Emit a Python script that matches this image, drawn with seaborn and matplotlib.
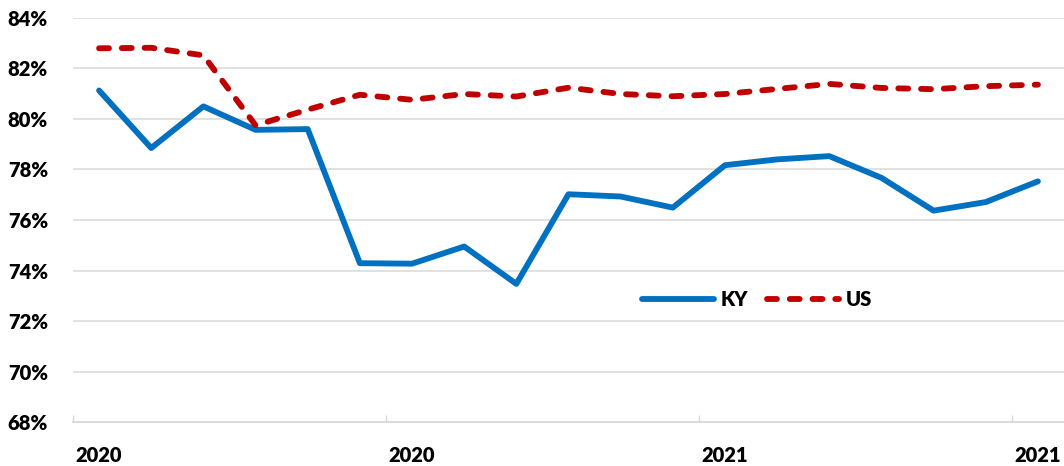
import pandas as pd
import matplotlib
matplotlib.use("Agg")
import matplotlib.pyplot as plt
import seaborn as sns

# monthly data, Jan 2020 - Jul 2021
months = ["2020-01", "2020-02", "2020-03", "2020-04", "2020-05", "2020-06",
          "2020-07", "2020-08", "2020-09", "2020-10", "2020-11", "2020-12",
          "2021-01", "2021-02", "2021-03", "2021-04", "2021-05", "2021-06",
          "2021-07"]
ky = [81.13, 78.85, 80.50, 79.57, 79.60, 74.29, 74.27, 74.95, 73.47, 77.02,
      76.93, 76.49, 78.17, 78.40, 78.53, 77.67, 76.37, 76.71, 77.53]
us = [82.80, 82.82, 82.52, 79.75, 80.37, 80.96, 80.76, 80.99, 80.89, 81.24,
      80.99, 80.90, 80.99, 81.19, 81.39, 81.23, 81.18, 81.30, 81.36]
x_label_every = 6
y_ticks = [68, 70, 72, 74, 76, 78, 80, 82, 84]

# -----------------------------
# build frame
# -----------------------------
df = pd.DataFrame({"month": months, "KY": ky, "US": us})
df["pos"] = range(len(df))
label_pos = list(range(0, len(df), x_label_every))
x_labels = [df["month"][i][:4] for i in label_pos]

sns.set_theme(style="white")
plt.rcParams["font.family"] = ["Lato", "DejaVu Sans"]
plt.rcParams["font.weight"] = "bold"

fig = plt.figure(figsize=(10.64, 4.66), dpi=100)
ax = fig.add_axes([0.0686, 0.0944, 0.9314, 0.867])

grid_col = "#D9D9D9"
for v in y_ticks[1:]:
    ax.axhline(v, color=grid_col, lw=1.1, zorder=0)

sns.lineplot(data=df, x="pos", y="KY", ax=ax, color="#0070C0", lw=4.2,
             label="KY", solid_capstyle="round", solid_joinstyle="round")
sns.lineplot(data=df, x="pos", y="US", ax=ax, color="#C00000", lw=4.2,
             label="US", linestyle=(0, (1.7, 2.2)),
             dash_capstyle="round", dash_joinstyle="round")

ax.set_xlim(-0.5, len(df) - 0.5)
ax.set_ylim(y_ticks[0], y_ticks[-1])

tick_font = {"fontsize": 14.5, "fontweight": "heavy", "color": "black"}

# labels centred on categories, tick marks between categories
ax.set_xticks(label_pos)
ax.set_xticklabels(x_labels, **tick_font)
ax.set_xticks([p - 0.5 for p in label_pos], minor=True)
ax.tick_params(axis="x", which="major", length=0, pad=17)
ax.tick_params(axis="x", which="minor", length=5, width=1, color=grid_col,
               direction="in", bottom=True)

ax.set_yticks(y_ticks)
ax.set_yticklabels([f"{v}%" for v in y_ticks], **tick_font)
ax.tick_params(axis="y", length=0, pad=18)

for s in ["top", "right", "left"]:
    ax.spines[s].set_visible(False)
ax.spines["bottom"].set_color(grid_col)
ax.spines["bottom"].set_linewidth(1.3)
ax.set_xlabel("")
ax.set_ylabel("")

leg = ax.legend(loc="center", bbox_to_anchor=(0.69, 0.304), ncol=2,
                frameon=False, handlelength=3.6, handletextpad=0.3,
                columnspacing=0.95, prop={"weight": "heavy", "size": 14.5})
for t in leg.get_texts():
    t.set_color("black")

fig.savefig("out.png", dpi=100)
